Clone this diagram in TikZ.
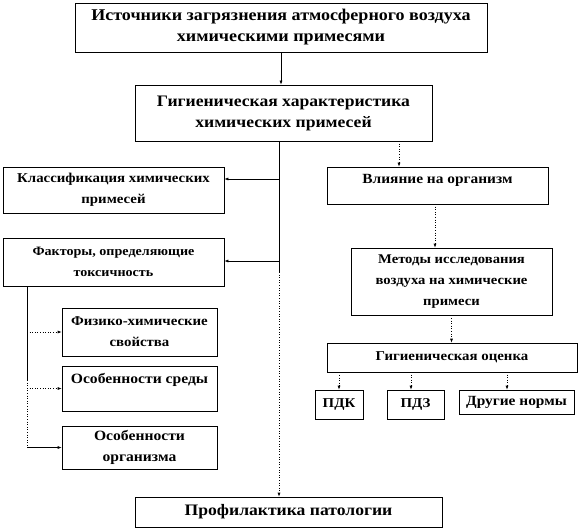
\documentclass[tikz,border=0pt]{standalone}
\usepackage{fontspec}
\setmainfont{Liberation Serif}[FakeStretch=1.1]
\usepackage{xcolor}
\usetikzlibrary{arrows.meta}

\begin{document}
\begin{tikzpicture}[
  x=1pt, y=-1pt,
  box/.style={draw=black, line width=0.6pt, fill=white, inner sep=2pt, align=center, font=\bfseries\fontsize{#1}{21}\selectfont},
  box/.default=13.5,
  arrow/.style={-{Latex[length=4pt,width=3pt]}, line width=0.6pt},
  dotarrow/.style={-{Latex[length=4pt,width=3pt]}, line width=0.6pt, dotted},
  plain/.style={line width=0.6pt}
]
\useasboundingbox (0,0) rectangle (580,529);

\node[box=16.4, minimum width=412pt, minimum height=49pt] (src) at (281,27.5) {Источники загрязнения атмосферного воздуха\\химическими примесями};
\node[box=16, minimum width=297pt, minimum height=56pt] (hyg) at (283.5,113) {Гигиеническая характеристика\\химических примесей};

\node[box, minimum width=221pt, minimum height=46pt] (cls) at (113.5,190) {Классификация химических\\примесей};
\node[box=12.8, minimum width=221pt, minimum height=48pt] (fac) at (113.5,262) {Факторы, определяющие\\токсичность};
\node[box, minimum width=155pt, minimum height=48pt] (phys) at (139.5,332) {Физико-химические\\свойства};
\node[box=14.2, minimum width=155pt, minimum height=45pt] (env) at (139.5,388.5) {Особенности среды\\\mbox{}};
\node[box=14.2, minimum width=155pt, minimum height=43pt] (org) at (139.5,447.5) {Особенности\\организма};

\node[box=14, minimum width=221pt, minimum height=37pt] (infl) at (437.5,185.5) {Влияние на организм\\[-8pt]\mbox{}};
\node[box=13.3, minimum width=201pt, minimum height=67pt] (meth) at (451.5,281.5) {Методы исследования\\воздуха на химические\\примеси};
\node[box, minimum width=250pt, minimum height=29pt] (eval) at (452,357.5) {Гигиеническая оценка};
\node[box=13.5, minimum width=48pt, minimum height=29pt] (pdk) at (339,404.5) {ПДК};
\node[box=13.5, minimum width=57pt, minimum height=29pt] (pdz) at (415.5,404.5) {ПДЗ};
\node[box=14, minimum width=115pt, minimum height=24pt] (other) at (516.5,402) {Другие нормы};

\node[box=16, minimum width=307pt, minimum height=30pt] (prof) at (288.5,512) {Профилактика патологии};

% trunk and branch points
\coordinate (trunk) at (279,141);
\coordinate (trunkmid) at (279,272);
\coordinate (tcls) at (279,179);
\coordinate (tfac) at (279,261);
\coordinate (branch) at (27,286);
\coordinate (branchmid) at (27,380);
\coordinate (tinfl) at (399,141);
\coordinate (tmeth) at (435,204);
\coordinate (tother) at (507,372);
\coordinate (tpdz) at (411,372);

\draw[arrow] (src.south) -- (src.south |- hyg.north);
\draw[plain] (trunk) -- (trunkmid);
\draw[dotarrow] (trunkmid) -- (trunkmid |- prof.north);
\draw[arrow] (tcls) -- (tcls -| cls.east);
\draw[arrow] (tfac) -- (tfac -| fac.east);

\draw[plain] (branch) -- (branchmid);
\draw[plain, dotted] (branchmid) -- (branch |- org.west);
\draw[dotarrow] (branch |- phys.west) -- (phys.west);
\draw[dotarrow] (branch |- env.west) -- (env.west);
\draw[arrow] (branch |- org.west) -- (org.west);

\draw[dotarrow] (tinfl) -- (tinfl |- infl.north);
\draw[dotarrow] (tmeth) -- (tmeth |- meth.north);
\draw[dotarrow] (meth.south) -- (meth.south |- eval.north);
\draw[dotarrow] (eval.south -| pdk.north) -- (pdk.north);
\draw[dotarrow] (tpdz) -- (tpdz |- pdz.north);
\draw[dotarrow] (tother) -- (tother |- other.north);
\end{tikzpicture}
\end{document}
